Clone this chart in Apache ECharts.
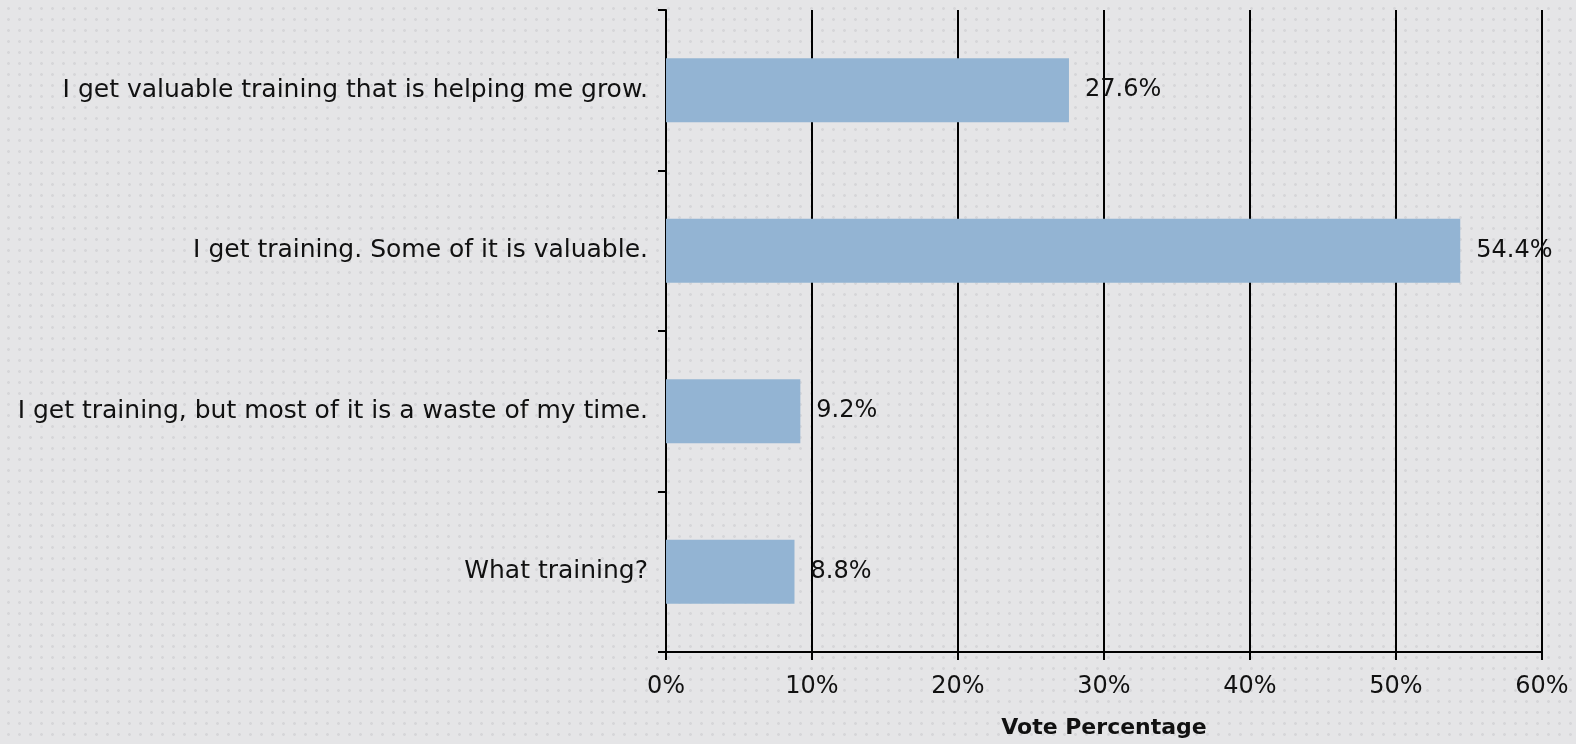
<!DOCTYPE html>
<html>
<head>
<meta charset="utf-8">
<script src="https://cdn.jsdelivr.net/npm/echarts@6/dist/echarts.min.js"></script>
<style>
  html, body {
    margin: 0;
    padding: 0;
    width: 1576px;
    height: 744px;
    overflow: hidden;
    background-color: #e5e5e7;
    background-image: radial-gradient(circle, #d6d6d9 1.2px, transparent 1.6px);
    background-size: 11px 11px;
    background-position: 3px 3px;
  }
  #chart {
    width: 1576px;
    height: 744px;
  }
</style>
</head>
<body>
<div id="chart"></div>
<script>
const categories = [
  'I get valuable training that is helping me grow.',
  'I get training. Some of it is valuable.',
  'I get training, but most of it is a waste of my time.',
  'What training?',
]
const votes = [27.6, 54.4, 9.2, 8.8]
const axisName = 'Vote Percentage'

const font = 'DejaVu Sans'
const chart = echarts.init(document.getElementById('chart'))

const option = {
  animation: false,
  backgroundColor: 'transparent',
  grid: {
    left: 666,
    right: 34,
    top: 10,
    bottom: 90,
    containLabel: false,
  },
  xAxis: {
    type: 'value',
    min: 0,
    max: 60,
    interval: 10,
    name: axisName,
    nameLocation: 'middle',
    nameGap: 65,
    nameTextStyle: {
      fontFamily: font,
      fontSize: 22,
      fontWeight: 'bold',
      color: '#111',
    },
    axisLine: { show: true, lineStyle: { color: '#000', width: 2 } },
    axisTick: { show: true, length: 8, lineStyle: { color: '#000', width: 2 } },
    axisLabel: {
      formatter: '{value}%',
      fontFamily: font,
      fontSize: 24,
      color: '#111',
      margin: 23,
    },
    splitLine: { show: true, lineStyle: { color: '#000', width: 2 } },
  },
  yAxis: {
    type: 'category',
    data: categories,
    inverse: true,
    axisLine: { show: true, lineStyle: { color: '#000', width: 2 } },
    axisTick: { show: true, length: 8, lineStyle: { color: '#000', width: 2 } },
    axisLabel: {
      fontFamily: font,
      fontSize: 25,
      color: '#111',
      margin: 18,
    },
  },
  series: [
    {
      type: 'bar',
      data: votes,
      barCategoryGap: '60%',
      itemStyle: { color: '#93b4d3' },
      label: {
        show: true,
        position: 'right',
        distance: 16,
        formatter: '{c}%',
        fontFamily: font,
        fontSize: 24,
        color: '#111',
      },
    },
  ],
}

chart.setOption(option)
</script>
</body>
</html>
